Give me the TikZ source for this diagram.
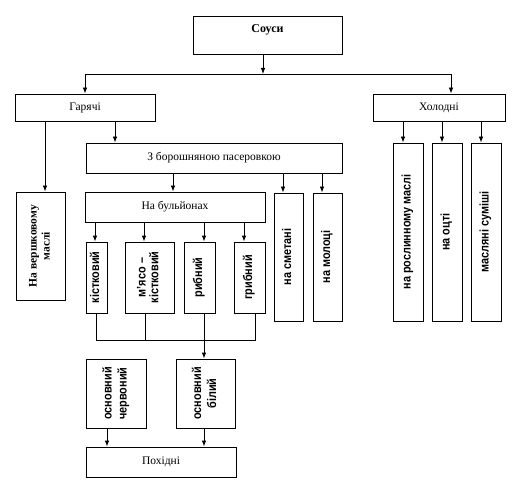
\documentclass[tikz,border=0pt]{standalone}
\usepackage{fontspec}
\setmainfont{Liberation Serif}
\setsansfont{Liberation Sans}
\usetikzlibrary{arrows.meta}
\begin{document}
\begin{tikzpicture}[x=1bp,y=-1bp,
  box/.style={draw,line width=0.8bp,inner sep=0pt,font=\fontsize{11.5bp}{13bp}\selectfont},
  vbox/.style={box,font=\sffamily\bfseries\fontsize{12.5bp}{13.5bp}\selectfont},
  arr/.style={line width=0.8bp,-{Latex[length=6bp,width=4.5bp]}},
  ln/.style={line width=0.8bp}]
\useasboundingbox (0,0) rectangle (519,495);
\newcommand\vt[1]{\rotatebox{90}{\begin{tabular}{@{}c@{}}#1\end{tabular}}}
\newcommand\vs[1]{\rotatebox{90}{\scalebox{0.87}[1]{\begin{tabular}{@{}c@{}}#1\end{tabular}}}}
% boxes
\node[box,minimum width=149bp,minimum height=38bp,text height=9bp,text depth=13bp,font=\bfseries\fontsize{12bp}{14bp}\selectfont] (souse) at (267.5,35) {Соуси};
\node[box,minimum width=140bp,minimum height=27bp] (hot) at (85,107.5) {Гарячі};
\node[box,minimum width=132bp,minimum height=27bp] (cold) at (439,107.5) {Холодні};
\node[box,minimum width=256bp,minimum height=30bp] (pas) at (214,158) {З борошняною пасеровкою};
\node[box,minimum width=49bp,minimum height=108bp,font=\bfseries\fontsize{11.5bp}{13bp}\selectfont] (cream) at (40.5,246) {\vt{На вершковому\\маслі}};
\node[box,minimum width=180bp,minimum height=30bp] (bul) at (175,207) {На бульйонах};
\node[vbox,minimum width=21bp,minimum height=71bp] (k1) at (96.5,277.5) {\vs{кістковий}};
\node[vbox,minimum width=49bp,minimum height=71bp,font=\sffamily\bfseries\fontsize{12.5bp}{11.5bp}\selectfont] (k2) at (149.5,277.5) {\vs{м’ясо –\\кістковий}};
\node[vbox,minimum width=31bp,minimum height=71bp] (k3) at (199.5,277.5) {\vs{рибний}};
\node[vbox,minimum width=31bp,minimum height=71bp] (k4) at (249.5,277.5) {\vs{грибний}};
\node[vbox,minimum width=29bp,minimum height=128bp] (sm) at (288.5,257) {\vs{на сметані}};
\node[vbox,minimum width=29bp,minimum height=128bp] (mol) at (327.5,257) {\vs{на молоці}};
\node[vbox,minimum width=30bp,minimum height=178bp] (c1) at (408,232) {\vs{на рослинному маслі}};
\node[vbox,minimum width=30bp,minimum height=178bp] (c2) at (447,232) {\vs{на оцті}};
\node[vbox,minimum width=30bp,minimum height=178bp] (c3) at (486,232) {\vs{масляні суміші}};
\node[vbox,minimum width=60bp,minimum height=69bp,font=\sffamily\bfseries\fontsize{12.5bp}{15bp}\selectfont] (red) at (116,393.5) {\vs{основний\\червоний}};
\node[vbox,minimum width=59bp,minimum height=69bp,font=\sffamily\bfseries\fontsize{12.5bp}{15bp}\selectfont] (white) at (205.5,393.5) {\vs{основний\\білий}};
\node[box,minimum width=150bp,minimum height=30bp] (pokh) at (161,462) {Похідні};
% connectors
\coordinate (j1) at (263,74);
\coordinate (jl) at (85,74);
\coordinate (jr) at (451,74);
\draw[arr] (souse.south -| j1) -- (j1);
\draw[ln] (jl) -- (jr);
\draw[arr] (jl) -- (hot.north -| jl);
\draw[arr] (jr) -- (cold.north -| jr);
\draw[arr] (hot.south -| 45,0) -- (cream.north -| 45,0);
\draw[arr] (hot.south -| 115,0) -- (pas.north -| 115,0);
\draw[arr] (pas.south -| 173,0) -- (bul.north -| 173,0);
\draw[arr] (pas.south -| 283,0) -- (sm.north -| 283,0);
\draw[arr] (pas.south -| 322,0) -- (mol.north -| 322,0);
\draw[arr] (bul.south -| 95,0) -- (k1.north -| 95,0);
\draw[arr] (bul.south -| 144,0) -- (k2.north -| 144,0);
\draw[arr] (bul.south -| 204,0) -- (k3.north -| 204,0);
\draw[arr] (bul.south -| 244,0) -- (k4.north -| 244,0);
\draw[arr] (cold.south -| 403,0) -- (c1.north -| 403,0);
\draw[arr] (cold.south -| 442,0) -- (c2.north -| 442,0);
\draw[arr] (cold.south -| 481,0) -- (c3.north -| 481,0);
\coordinate (b1) at (96,340);
\coordinate (b4) at (255,340);
\draw[ln] (k1.south -| b1) -- (b1) -- (b4) -- (k4.south -| b4);
\draw[ln] (k2.south -| 145,0) -- (b1 -| 145,0);
\draw[arr] (k3.south -| 204,0) -- (white.north -| 204,0);
\draw[arr] (red.south -| 107,0) -- (pokh.north -| 107,0);
\draw[arr] (white.south -| 204,0) -- (pokh.north -| 204,0);
\end{tikzpicture}
\end{document}
